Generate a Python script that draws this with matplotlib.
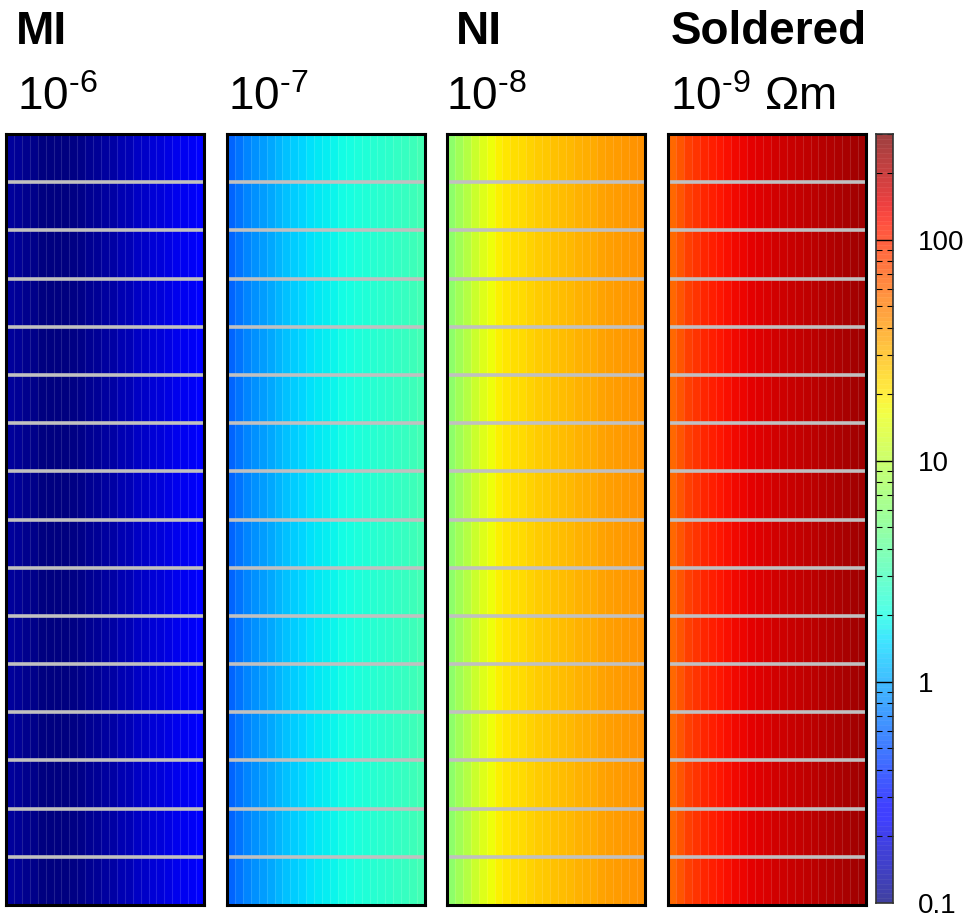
import numpy as np
import matplotlib
matplotlib.use("Agg")
import matplotlib.pyplot as plt
from matplotlib.colors import LogNorm
from matplotlib.ticker import NullFormatter

plt.rcParams["font.family"] = ["Liberation Sans", "DejaVu Sans"]
plt.rcParams["mathtext.fontset"] = "custom"
plt.rcParams["mathtext.rm"] = "Liberation Sans"

# column profiles (left -> right), same for every strip in a panel
mi_vals = [0.123, 0.119, 0.113, 0.107, 0.103, 0.100, 0.100, 0.102, 0.106, 0.109,
           0.116, 0.119, 0.126, 0.132, 0.142, 0.150, 0.160, 0.170, 0.182, 0.191,
           0.202, 0.214, 0.224, 0.232, 0.241]
e7_vals = [0.605, 0.683, 0.772, 0.855, 0.941, 1.04, 1.13, 1.24, 1.35, 1.46,
           1.58, 1.67, 1.77, 1.87, 1.96, 2.06, 2.16, 2.27, 2.38, 2.48,
           2.58, 2.71, 2.82, 2.96, 3.13]
ni_vals = [6.43, 7.85, 9.59, 11.7, 14.1, 16.5, 18.9, 20.5, 21.7, 23.0,
           24.3, 25.5, 26.7, 28.1, 29.2, 30.4, 31.8, 33.2, 34.5, 35.9,
           37.4, 38.6, 39.9, 41.2, 42.5]
sold_vals = [60.5, 71.0, 83.3, 94.0, 104, 113, 121, 128, 135, 141,
             147, 153, 159, 166, 173, 180, 185, 191, 198, 204,
             211, 218, 225, 232, 240]

panel_vals = [mi_vals, e7_vals, ni_vals, sold_vals]
panel_names = ["MI", "", "NI", "Soldered"]
panel_res = ["$\\mathregular{10^{\u20106}}$", "$\\mathregular{10^{\u20107}}$",
             "$\\mathregular{10^{\u20108}}$", "$\\mathregular{10^{\u20109}}$ \u03a9m"]
n_strips = 16
vmin, vmax = 0.1, 300
cbar_ticks = [1, 10, 100]

W, H = 980, 919
fig = plt.figure(figsize=(W / 100, H / 100), dpi=100)
norm = LogNorm(vmin=vmin, vmax=vmax)
cmap = plt.get_cmap("jet")

lefts = [6, 227, 447, 668]
name_x = [16, 0, 456, 671]
res_x = [17, 228, 446, 670]
top, bottom = 134, 905
for i, vals in enumerate(panel_vals):
    ax = fig.add_axes([lefts[i] / W, (H - bottom) / H, 198 / W, (bottom - top) / H])
    ncol = len(vals)
    grid = np.tile(np.array(vals), (n_strips, 1))
    ax.pcolormesh(np.arange(ncol + 1), np.arange(n_strips + 1), grid,
                  cmap=cmap, norm=norm, shading="flat")
    ax.vlines(np.arange(1, ncol), 0, n_strips, color="white", alpha=0.13, lw=0.8)
    ax.hlines(np.arange(1, n_strips), 0, ncol, color="#c0c0c0", lw=2.6)
    ax.set_xlim(0, ncol)
    ax.set_ylim(0, n_strips)
    ax.set_xticks([])
    ax.set_yticks([])
    for s in ax.spines.values():
        s.set_linewidth(2.2)
        s.set_color("black")

    if panel_names[i]:
        fig.text(name_x[i] / W, 1 - 44 / H, panel_names[i], fontsize=33,
                 fontweight="bold", ha="left", va="baseline")
    fig.text(res_x[i] / W, 1 - 110 / H, panel_res[i], fontsize=33,
             ha="left", va="baseline")

# colour scale
cax = fig.add_axes([876 / W, (H - 903) / H, 17 / W, (903 - 134) / H])
levels = np.logspace(np.log10(vmin), np.log10(vmax), 161)
centers = np.sqrt(levels[:-1] * levels[1:])
cax.pcolormesh([0, 1], levels, centers[:, None], cmap=cmap, norm=norm,
               alpha=0.75, shading="flat")
cax.hlines(levels[1:-1], 0, 1, color="white", alpha=0.08, lw=0.5)
cax.set_yscale("log")
cax.set_ylim(vmin, vmax)
cax.set_xlim(0, 1)
cax.set_xticks([])
for t in cbar_ticks:
    cax.axhline(t, color="black", lw=1.0)
cax.yaxis.tick_right()
cax.set_yticks([0.1] + cbar_ticks)
cax.set_yticklabels(["0.1", "1", "10", "100"])
cax.tick_params(axis="y", which="major", length=0, pad=18, labelsize=20)
cax.tick_params(axis="y", which="minor", direction="in", left=True, right=True,
                length=4, width=0.8, color="black")
cax.yaxis.set_minor_formatter(NullFormatter())
for s in cax.spines.values():
    s.set_linewidth(1.2)
    s.set_color("#333333")

fig.savefig("out.png", dpi=100)
